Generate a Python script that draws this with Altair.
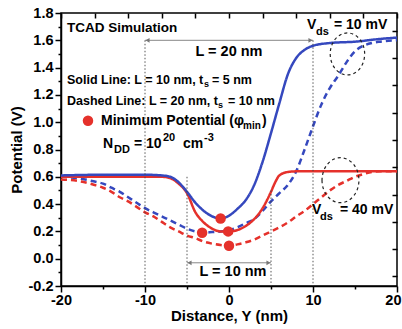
import altair as alt
import pandas as pd

BLUE = "#3548be"
RED = "#e5312b"
FONT = "Liberation Sans"

# ---------------- data ----------------
# Solid line: L = 10 nm, ts = 5 nm, Vds = 10 mV (blue)
x_blue_solid = [-20, -15, -10, -8, -7, -6, -5, -4, -3, -2, -1, 0, 1, 2, 3, 4, 5, 6, 7, 8, 9, 10, 12, 15, 18, 20]
y_blue_solid = [0.61, 0.615, 0.615, 0.61, 0.60, 0.56, 0.49, 0.41, 0.35, 0.31, 0.295, 0.315, 0.365, 0.43, 0.54,
                0.71, 0.92, 1.14, 1.35, 1.47, 1.53, 1.56, 1.58, 1.59, 1.61, 1.62]
# Solid line: L = 10 nm, ts = 5 nm, Vds = 40 mV (red)
x_red_solid = [-20, -15, -10, -8, -7, -6, -5, -4, -3, -2, -1, 0, 1, 2, 3, 4, 5, 5.5, 6, 7, 8, 10, 15, 20]
y_red_solid = [0.60, 0.60, 0.60, 0.60, 0.59, 0.55, 0.48, 0.34, 0.265, 0.22, 0.20, 0.20, 0.21, 0.24, 0.29, 0.37,
               0.49, 0.56, 0.61, 0.635, 0.64, 0.64, 0.64, 0.64]
# Dashed line: L = 20 nm, ts = 10 nm, Vds = 10 mV (blue)
x_blue_dash = [-20, -18, -16, -15, -14, -13, -12, -11, -10, -9, -8, -7, -6, -5, -4, -3, -2, -1, 0, 1, 2, 3, 4, 5,
               6, 7, 8, 9, 10, 11, 12, 13, 14, 15, 16, 17, 18, 20]
y_blue_dash = [0.60, 0.59, 0.565, 0.55, 0.52, 0.49, 0.45, 0.41, 0.37, 0.34, 0.31, 0.28, 0.25, 0.22, 0.20, 0.19,
               0.195, 0.20, 0.21, 0.23, 0.26, 0.29, 0.35, 0.42, 0.48, 0.54, 0.64, 0.80, 0.97, 1.13, 1.25, 1.34,
               1.44, 1.52, 1.56, 1.58, 1.59, 1.60]
# Dashed line: L = 20 nm, ts = 10 nm, Vds = 40 mV (red)
x_red_dash = [-20, -18, -16, -15, -14, -13, -12, -11, -10, -9, -8, -7, -6, -5, -4, -3, -2, -1, 0, 1, 2, 3, 4, 5,
              6, 7, 8, 9, 10, 11, 12, 13, 14, 15, 16, 17, 18, 20]
y_red_dash = [0.58, 0.57, 0.54, 0.52, 0.49, 0.45, 0.42, 0.38, 0.34, 0.31, 0.27, 0.23, 0.20, 0.17, 0.15, 0.125,
              0.11, 0.10, 0.095, 0.105, 0.12, 0.14, 0.17, 0.20, 0.23, 0.265, 0.31, 0.35, 0.40, 0.45, 0.50, 0.54,
              0.57, 0.60, 0.62, 0.635, 0.64, 0.64]

# minimum potential points
min_x = [-1.0, -0.1, -3.2, 0.0]
min_y = [0.295, 0.20, 0.19, 0.095]

series_names = ["blue_dash", "red_dash", "red_solid", "blue_solid"]
series_x = [x_blue_dash, x_red_dash, x_red_solid, x_blue_solid]
series_y = [y_blue_dash, y_red_dash, y_red_solid, y_blue_solid]

rows = []
for order, (name, xs, ys) in enumerate(zip(series_names, series_x, series_y)):
    for a, b in zip(xs, ys):
        rows.append({"series": name, "x": a, "y": b, "order": order})
curves = pd.DataFrame(rows)
mins = pd.DataFrame({"x": min_x, "y": min_y})

# annotations (pixel positions of the reference converted to data units)
def dx(px):
    return (px - 229) / 8.4

def dy(py):
    return (259 - py) / 136.5

left_text = [
    ("TCAD Simulation", 67, 28, 13.5),
    ("Solid Line: L = 10 nm, t", 67, 80, 12.5),
    ("s", 204, 84, 9),
    ("= 5 nm", 212, 80, 12.5),
    ("Dashed Line: L = 20 nm, t", 67, 101, 12.5),
    ("s", 218, 105, 9),
    ("= 10 nm", 228, 101, 12.5),
    ("Minimum Potential (\u03c6", 101, 121, 14),
    ("min", 243, 126, 10),
    (")", 262, 121, 14),
    ("N", 103, 144, 14),
    ("DD", 114, 150, 11),
    ("= 10", 134, 144, 14),
    ("20", 163, 138, 11),
    ("cm", 183, 144, 14),
    ("-3", 204, 138, 11),
    ("V", 307, 25, 14),
    ("ds", 316, 32, 11),
    ("= 10 mV", 334, 25, 14),
    ("V", 312, 210, 14),
    ("ds", 320, 217, 11),
    ("= 40 mV", 340, 210, 14),
]
center_text = [
    ("L = 20 nm", 229, 52, 14.5),
    ("L = 10 nm", 233, 272, 14.5),
]
ltext = pd.DataFrame([{"t": t, "x": dx(a), "y": dy(b), "s": s} for t, a, b, s in left_text])
ctext = pd.DataFrame([{"t": t, "x": dx(a), "y": dy(b), "s": s} for t, a, b, s in center_text])

vlines = pd.DataFrame({"x": [-10, 10, -5, 5], "y": [1.6, 1.6, 0.6, 0.5], "y2": [-0.2, -0.2, -0.2, -0.2]})
hlines = pd.DataFrame({"x": [-10, -5], "x2": [10, 5], "y": [1.6, -0.03]})
heads = pd.DataFrame({"x": [-9.7, 9.7, -4.7, 4.7], "y": [1.6, 1.6, -0.03, -0.03],
                      "shape": ["triangle-left", "triangle-right", "triangle-left", "triangle-right"]})
ELL = "M -0.82,0 A 0.82,1 0 1,0 0.82,0 A 0.82,1 0 1,0 -0.82,0 Z"
ellipses = pd.DataFrame({"x": [14.1, 13.27], "y": [1.50, 0.575], "size": [1764, 2025], "shape": [ELL, ELL]})

# ---------------- scales & axes ----------------
xscale = alt.Scale(domain=[-20, 20], nice=False, zero=False)
yscale = alt.Scale(domain=[-0.2, 1.8], nice=False, zero=False)

common_axis = dict(domainColor="black", domainWidth=1.5, tickColor="black", tickWidth=1.5, grid=False,
                   labelFont=FONT, labelFontWeight="bold", labelFontSize=14.5, labelColor="black",
                   titleFont=FONT, titleFontWeight="bold", titleFontSize=15, titleColor="black")

x_axis = alt.Axis(values=list(range(-20, 21, 5)),
                  labelExpr="datum.value % 10 == 0 ? datum.value + '' : ''",
                  tickSize={"condition": {"test": "datum.value % 10 != 0", "value": 3}, "value": 6},
                  labelAlign={"condition": {"test": "datum.value == 20", "value": "right"}, "value": "center"},
                  labelOffset={"condition": {"test": "datum.value == 20", "value": 4}, "value": 0},
                  labelPadding=1, titlePadding=2, labelFlush=False, labelOverlap=False, **common_axis)
y_axis = alt.Axis(values=[round(-0.2 + 0.1 * k, 1) for k in range(21)],
                  labelExpr="abs(round(datum.value*10)) % 2 == 1 ? '' : replace(format(datum.value, '.1f'), '\u2212', '-')",
                  tickSize={"condition": {"test": "abs(round(datum.value*10)) % 2 == 1", "value": 3}, "value": 6},
                  labelPadding=2, titlePadding=4, labelFlush=False, labelOverlap=False, **common_axis)

top_ticks = list(range(-20, 21, 4))
right_ticks = [round(-0.13 + 0.2 * k, 2) for k in range(10)]

X = lambda **kw: alt.X("x:Q", scale=xscale, **kw)
Y = lambda **kw: alt.Y("y:Q", scale=yscale, **kw)

lines = alt.Chart(curves).mark_line(strokeWidth=2.5, interpolate="monotone").encode(
    x=X(axis=x_axis, title="Distance, Y (nm)"),
    y=Y(axis=y_axis, title="Potential (V)"),
    color=alt.Color("series:N", legend=None,
                    scale=alt.Scale(domain=series_names, range=[BLUE, RED, RED, BLUE])),
    strokeDash=alt.StrokeDash("series:N", legend=None,
                              scale=alt.Scale(domain=series_names, range=[[6, 4], [6, 4], [1, 0], [1, 0]])),
    order=alt.Order("order:Q"),
)

mirror = alt.Chart(curves).mark_point(opacity=0).encode(
    x=X(axis=alt.Axis(orient="top", values=top_ticks, labels=False, domain=False, tickSize=5, offset=-5,
                      tickColor="black", tickWidth=1.5, grid=False, title=None)),
    y=Y(axis=alt.Axis(orient="right", values=right_ticks, labels=False, domain=False, tickSize=5, offset=-5,
                      tickColor="black", tickWidth=1.5, grid=False, title=None)),
)

vrules = alt.Chart(vlines).mark_rule(color="#444", strokeWidth=0.9, strokeDash=[1.5, 2]).encode(
    x=X(axis=None), y=Y(axis=None), y2="y2:Q")
hrules = alt.Chart(hlines).mark_rule(color="#888", strokeWidth=1).encode(
    x=X(axis=None), x2="x2:Q", y=Y(axis=None))
arrowheads = alt.Chart(heads).mark_point(filled=True, color="#777", size=22, opacity=1).encode(
    x=X(axis=None), y=Y(axis=None), shape=alt.Shape("shape:N", scale=None))

ells = alt.Chart(ellipses).mark_point(filled=False, color="#222", strokeWidth=1.2, strokeDash=[3, 3],
                                      opacity=1).encode(
    x=X(axis=None), y=Y(axis=None), shape=alt.Shape("shape:N", scale=None), size=alt.Size("size:Q", scale=None))

dots = alt.Chart(mins).mark_circle(color=RED, size=110, opacity=1).encode(x=X(axis=None), y=Y(axis=None))
legend_dot = alt.Chart(pd.DataFrame({"x": [dx(88)], "y": [dy(121)]})).mark_circle(
    color=RED, size=110, opacity=1).encode(x=X(axis=None), y=Y(axis=None))

txt_l = alt.Chart(ltext).mark_text(align="left", baseline="middle", font=FONT, fontWeight="bold",
                                   color="black").encode(
    x=X(axis=None), y=Y(axis=None), text="t:N", size=alt.Size("s:Q", scale=None))
txt_c = alt.Chart(ctext).mark_text(align="center", baseline="middle", font=FONT, fontWeight="bold",
                                   color="black").encode(
    x=X(axis=None), y=Y(axis=None), text="t:N", size=alt.Size("s:Q", scale=None))

chart = alt.layer(lines, mirror, vrules, hrules, arrowheads, ells, dots, legend_dot, txt_l, txt_c).resolve_axis(
    x="independent", y="independent"
).properties(
    width=336, height=273,
    autosize=alt.AutoSizeParams(type="none"),
    padding={"left": 61, "top": 13, "right": 5, "bottom": 43},
    background="white",
).configure_view(stroke="black", strokeWidth=1.5)

chart.save("out.html", embed_options={"renderer": "svg", "actions": False})
